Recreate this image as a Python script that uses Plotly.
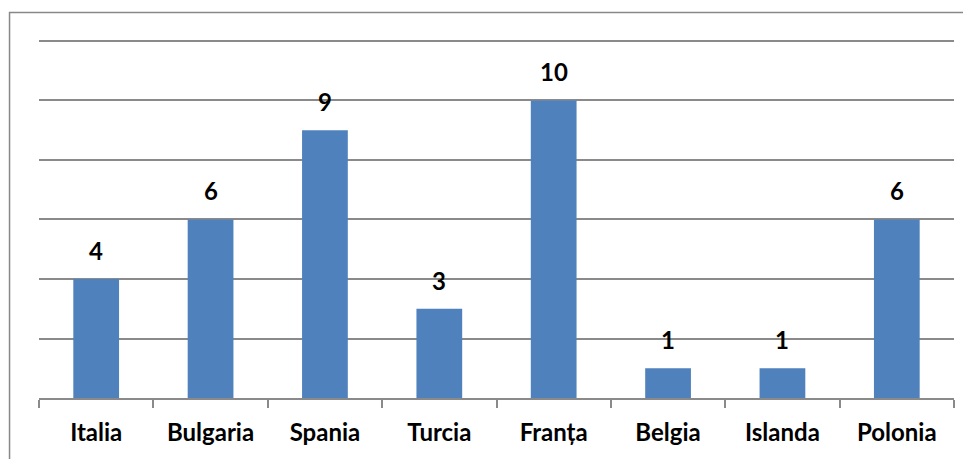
import plotly.graph_objects as go

categories = ["Italia", "Bulgaria", "Spania", "Turcia", "Franța", "Belgia", "Islanda", "Polonia"]
values = [4, 6, 9, 3, 10, 1, 1, 6]

BAR = "#4F81BD"
GRID = "#8a8a8a"
FONT = "Lato"

fig = go.Figure()
fig.add_trace(go.Bar(x=categories, y=values, marker=dict(color=BAR, line=dict(width=0)),
                     hoverinfo="skip"))

for c, v in zip(categories, values):
    fig.add_annotation(x=c, y=v, text=f"<b>{v}</b>", showarrow=False,
                       yanchor="bottom", yshift=12,
                       font=dict(family=FONT, size=24, color="black"))

fig.add_shape(type="rect", xref="paper", yref="paper",
              x0=-0.0322, x1=1.05, y0=-0.3, y1=1.071,
              line=dict(color="#888888", width=1.5), fillcolor="rgba(0,0,0,0)", layer="below")

fig.update_layout(
    width=971, height=459,
    margin=dict(l=31, r=25, t=30, b=69),
    paper_bgcolor="white", plot_bgcolor="white",
    bargap=0.6, showlegend=False,
    font=dict(family=FONT, color="black"),
    xaxis=dict(type="category", showgrid=False, showline=True, linecolor=GRID, linewidth=1.5,
               ticks="outside", tickson="boundaries", ticklen=8, tickcolor=GRID, tickwidth=1.5,
               tickfont=dict(family=FONT, size=24, color="black", weight="bold"),
               ticklabelstandoff=12),
    yaxis=dict(range=[0, 12.1], tickvals=[2, 4, 6, 8, 10, 12], showgrid=True, gridcolor=GRID,
               gridwidth=1.5, showticklabels=False, zeroline=False, showline=False, ticks=""),
)

fig.write_html("out.html")
